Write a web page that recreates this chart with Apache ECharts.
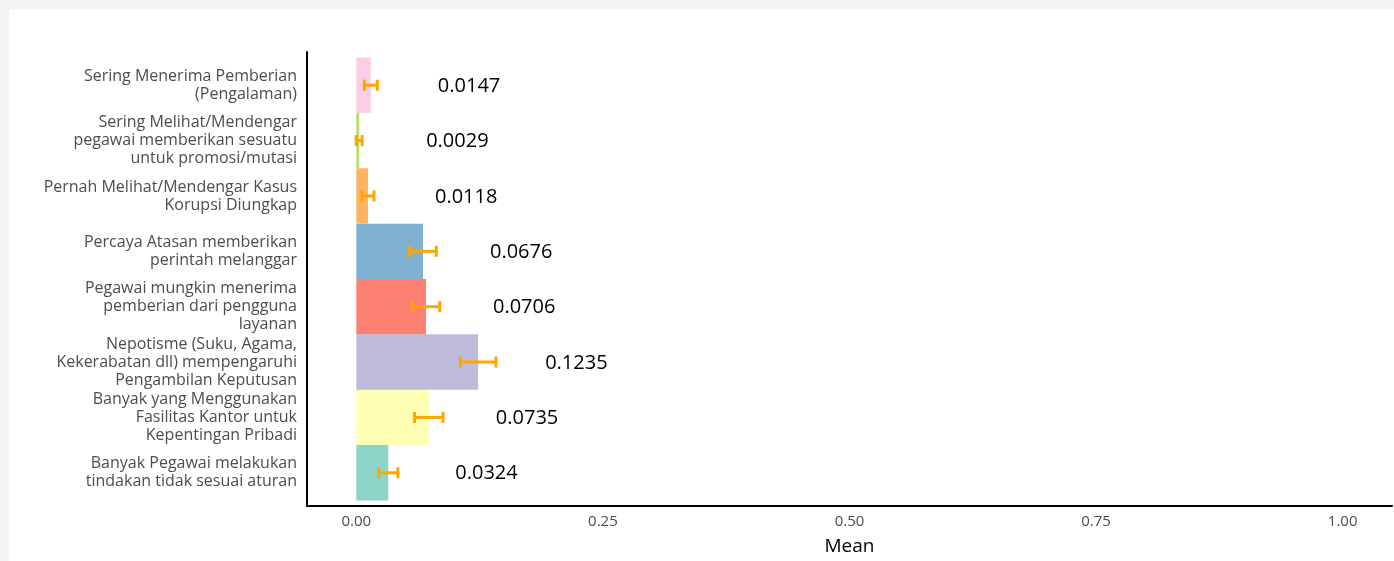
<!DOCTYPE html>
<html>
<head>
<meta charset="utf-8">
<script src="https://cdn.jsdelivr.net/npm/echarts@6/dist/echarts.min.js"></script>
<style>
  html, body { margin: 0; padding: 0; background: #f4f4f4; }
  #chart { position: absolute; left: 9px; top: 9px; width: 1385px; height: 552px; background: #fff; }
</style>
</head>
<body>
<div id="chart"></div>
<script>
// bottom to top
const categories = [
  'Banyak Pegawai melakukan\ntindakan tidak sesuai aturan',
  'Banyak yang Menggunakan\nFasilitas Kantor untuk\nKepentingan Pribadi',
  'Nepotisme (Suku, Agama,\nKekerabatan dll) mempengaruhi\nPengambilan Keputusan',
  'Pegawai mungkin menerima\npemberian dari pengguna\nlayanan',
  'Percaya Atasan memberikan\nperintah melanggar',
  'Pernah Melihat/Mendengar Kasus\nKorupsi Diungkap',
  'Sering Melihat/Mendengar\npegawai memberikan sesuatu\nuntuk promosi/mutasi',
  'Sering Menerima Pemberian\n(Pengalaman)'
]
const means = [0.0324, 0.0735, 0.1235, 0.0706, 0.0676, 0.0118, 0.0029, 0.0147]
const errors = [0.0098, 0.0144, 0.018, 0.014, 0.0135, 0.0061, 0.003, 0.0066]
const colors = ['#8DD3C7', '#FFFFB3', '#BEBADA', '#FB8072', '#80B1D3', '#FDB462', '#B3DE69', '#FCCDE5']
const xTicks = [0, 0.25, 0.5, 0.75, 1]

const font = '"Open Sans", "Noto Sans", sans-serif'
const chart = echarts.init(document.getElementById('chart'))

const barData = means.map((v, i) => [v, i, errors[i]])

chart.setOption({
  animation: false,
  textStyle: { fontFamily: font },
  grid: { left: 298, right: 2, top: 43, bottom: 55, outerBoundsMode: 'none' },
  xAxis: {
    type: 'value',
    min: -0.05,
    max: 1.05,
    name: 'Mean',
    nameLocation: 'middle',
    nameGap: 31,
    nameTextStyle: { color: '#000', fontSize: 19, fontFamily: font },
    axisLine: { show: true, onZero: false, lineStyle: { color: '#000', width: 2 } },
    axisTick: { show: false },
    splitLine: { show: false },
    axisLabel: {
      customValues: xTicks,
      formatter: v => v.toFixed(2),
      color: '#4d4d4d',
      fontSize: 15,
      margin: 8,
      fontFamily: font
    }
  },
  yAxis: {
    type: 'value',
    min: -0.6,
    max: 7.6,
    axisLine: { show: true, onZero: false, lineStyle: { color: '#000', width: 2 } },
    axisTick: { show: false },
    splitLine: { show: false },
    axisLabel: {
      customValues: categories.map((c, i) => i),
      formatter: v => categories[Math.round(v)] || '',
      color: '#4d4d4d',
      fontSize: 16,
      lineHeight: 18,
      align: 'right',
      margin: 10,
      padding: [4, 0, 0, 0],
      fontFamily: font
    }
  },
  series: [
    {
      type: 'custom',
      data: barData,
      encode: { x: 0, y: 1 },
      renderItem: (params, api) => {
        const i = api.value(1)
        const p0 = api.coord([0, i])
        const p1 = api.coord([api.value(0), i])
        const h = api.size([0, 1])[1]
        return {
          type: 'rect',
          shape: { x: p0[0], y: p0[1] - h / 2, width: p1[0] - p0[0], height: h },
          style: { fill: colors[i] }
        }
      }
    },
    {
      type: 'custom',
      data: barData,
      encode: { x: 0, y: 1 },
      z: 3,
      renderItem: (params, api) => {
        const i = api.value(1)
        const v = api.value(0)
        const e = api.value(2)
        const lo = api.coord([v - e, i])
        const hi = api.coord([v + e, i])
        const mid = api.coord([v, i])
        const cap = api.size([0, 0.2])[1] / 2
        const st = { stroke: '#FFA500', lineWidth: 3 }
        return {
          type: 'group',
          children: [
            { type: 'line', shape: { x1: lo[0], y1: lo[1], x2: hi[0], y2: hi[1] }, style: st },
            { type: 'line', shape: { x1: lo[0], y1: lo[1] - cap, x2: lo[0], y2: lo[1] + cap }, style: st },
            { type: 'line', shape: { x1: hi[0], y1: hi[1] - cap, x2: hi[0], y2: hi[1] + cap }, style: st },
            {
              type: 'text',
              x: mid[0] + 67,
              y: mid[1] + 1,
              style: {
                text: v.toFixed(4),
                fill: '#000',
                fontSize: 20,
                fontFamily: font,
                align: 'left',
                verticalAlign: 'middle'
              }
            }
          ]
        }
      }
    }
  ]
})
</script>
</body>
</html>
